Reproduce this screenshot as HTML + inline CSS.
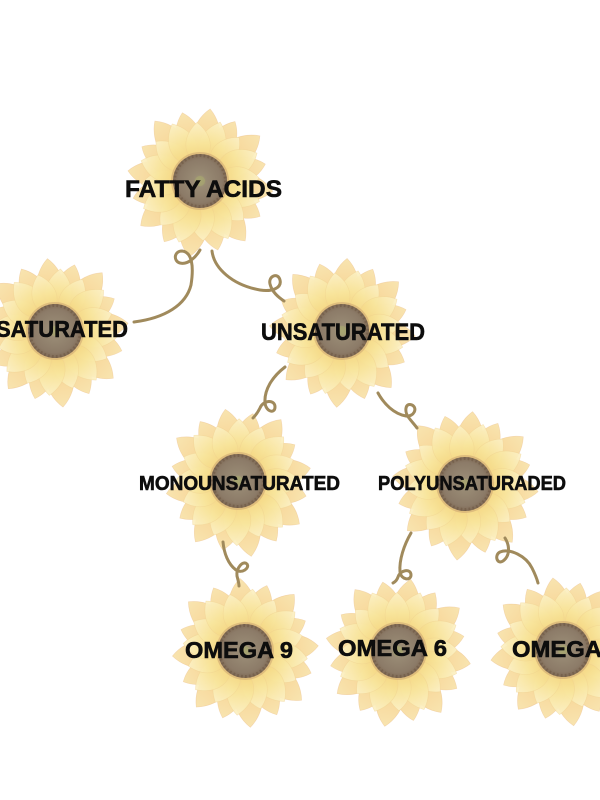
<!DOCTYPE html>
<html>
<head>
<meta charset="utf-8">
<style>
html,body{margin:0;padding:0;background:#fff;}
body{width:600px;height:800px;overflow:hidden;}
svg{display:block;}
text{font-family:"Liberation Sans",Arial,sans-serif;font-weight:bold;fill:#0d0d0d;stroke:#0d0d0d;stroke-width:0.6;}
</style>
</head>
<body>
<svg width="600" height="800" viewBox="0 0 600 800" xmlns="http://www.w3.org/2000/svg">
<defs>
  <linearGradient id="gb" gradientUnits="userSpaceOnUse" x1="0" y1="-18" x2="0" y2="-76">
    <stop offset="0" stop-color="#f0bd8c"/>
    <stop offset="0.45" stop-color="#f6d28e"/>
    <stop offset="1" stop-color="#f8e2a8"/>
  </linearGradient>
  <linearGradient id="gf" gradientUnits="userSpaceOnUse" x1="0" y1="-18" x2="0" y2="-62">
    <stop offset="0" stop-color="#f3d27a"/>
    <stop offset="0.5" stop-color="#f8e59c"/>
    <stop offset="1" stop-color="#fcf1c8"/>
  </linearGradient>
  <radialGradient id="gd" cx="0.5" cy="0.5" r="0.5">
    <stop offset="0" stop-color="#a8a476"/>
    <stop offset="0.25" stop-color="#988a74"/>
    <stop offset="0.8" stop-color="#8c7b68"/>
    <stop offset="1" stop-color="#7f6a55"/>
  </radialGradient>
  <path id="pb" d="M0,-18 C19,-28 19,-58 0,-75 C-19,-58 -19,-28 0,-18Z" fill="url(#gb)" fill-opacity="0.9" stroke="#ecbe8c" stroke-width="0.6" stroke-opacity="0.5"/>
  <path id="pf" d="M0,-18 C17,-26 17,-47 0,-61 C-17,-47 -17,-26 0,-18Z" fill="url(#gf)" fill-opacity="0.93" stroke="#efd08e" stroke-width="0.6" stroke-opacity="0.5"/>
  <g id="fl">
    <use href="#pb" transform="rotate(0) scale(0.97)"/>
    <use href="#pb" transform="rotate(22.5) scale(0.92)"/>
    <use href="#pb" transform="rotate(45) scale(1.0)"/>
    <use href="#pb" transform="rotate(67.5) scale(0.9)"/>
    <use href="#pb" transform="rotate(90) scale(0.98)"/>
    <use href="#pb" transform="rotate(112.5) scale(0.93)"/>
    <use href="#pb" transform="rotate(135) scale(1.0)"/>
    <use href="#pb" transform="rotate(157.5) scale(0.95)"/>
    <use href="#pb" transform="rotate(180) scale(1.02)"/>
    <use href="#pb" transform="rotate(202.5) scale(0.94)"/>
    <use href="#pb" transform="rotate(225) scale(0.99)"/>
    <use href="#pb" transform="rotate(247.5) scale(0.92)"/>
    <use href="#pb" transform="rotate(270) scale(0.97)"/>
    <use href="#pb" transform="rotate(292.5) scale(0.9)"/>
    <use href="#pb" transform="rotate(315) scale(1.0)"/>
    <use href="#pb" transform="rotate(337.5) scale(0.94)"/>
    <use href="#pf" transform="rotate(11) scale(1.02)"/>
    <use href="#pf" transform="rotate(34) scale(0.96)"/>
    <use href="#pf" transform="rotate(56) scale(1.04)"/>
    <use href="#pf" transform="rotate(79) scale(0.97)"/>
    <use href="#pf" transform="rotate(101) scale(1.03)"/>
    <use href="#pf" transform="rotate(124) scale(0.96)"/>
    <use href="#pf" transform="rotate(146) scale(1.05)"/>
    <use href="#pf" transform="rotate(169) scale(0.98)"/>
    <use href="#pf" transform="rotate(191) scale(1.06)"/>
    <use href="#pf" transform="rotate(214) scale(0.97)"/>
    <use href="#pf" transform="rotate(236) scale(1.03)"/>
    <use href="#pf" transform="rotate(259) scale(0.96)"/>
    <use href="#pf" transform="rotate(281) scale(1.02)"/>
    <use href="#pf" transform="rotate(304) scale(0.97)"/>
    <use href="#pf" transform="rotate(326) scale(1.04)"/>
    <use href="#pf" transform="rotate(349) scale(0.96)"/>
    <circle r="29" fill="#c39a6c" fill-opacity="0.45"/>
    <circle r="27" fill="url(#gd)"/>
    <circle r="25.5" fill="none" stroke="#6e5844" stroke-width="3" stroke-dasharray="1.8 2.2" stroke-opacity="0.6"/>
    <circle r="5" fill="#a9a86e" fill-opacity="0.6"/>
  </g>
</defs>

<!-- flowers -->
<use href="#fl" transform="translate(200,181) rotate(8)"/>
<use href="#fl" transform="translate(55,331) rotate(-6)"/>
<use href="#fl" transform="translate(342,331) rotate(4)"/>
<use href="#fl" transform="translate(238,481) rotate(-10)"/>
<use href="#fl" transform="translate(465,484) rotate(6)"/>
<use href="#fl" transform="translate(245,651) rotate(-4)"/>
<use href="#fl" transform="translate(398,651) rotate(10)"/>
<use href="#fl" transform="translate(563,650) rotate(-8)"/>

<!-- connectors -->
<g fill="none" stroke="#a08a5c" stroke-width="3" stroke-linecap="round">
  <path d="M200,250 C196,257 188,265 180,263 C173,261 174,251 182,251 C192,252 194,266 191,285 C186,305 165,318 134,322"/>
  <path d="M212,251 C214,268 232,285 260,290 C272,292 282,288 280,280 C278,272 268,276 270,284 C272,292 278,297 284,301"/>
  <path d="M285,367 C272,377 264,390 265,403 C266,412 275,414 275,407 C275,399 263,400 260,408 C258,412 256,415 253,418"/>
  <path d="M378,393 C384,404 394,414 406,416 C414,417 418,408 412,405 C405,402 404,412 409,418 C412,422 415,425 417,428"/>
  <path d="M223,542 C224,553 228,564 236,570 C242,574 250,568 247,564 C243,560 236,568 237,576 C238,580 239,583 239,586"/>
  <path d="M411,533 C404,545 399,560 400,572 C401,580 411,581 411,575 C411,568 400,570 398,577 C397,580 395,582 393,583"/>
  <path d="M505,538 C510,546 510,556 503,561 C497,565 494,555 500,552 C510,548 526,556 532,568 C535,574 537,579 538,583"/>
</g>

<!-- labels -->
<text x="125" y="197" font-size="24" textLength="157" lengthAdjust="spacingAndGlyphs">FATTY ACIDS</text>
<text x="-4" y="337" font-size="23" textLength="132" lengthAdjust="spacingAndGlyphs">SATURATED</text>
<text x="261" y="340" font-size="24" textLength="164" lengthAdjust="spacingAndGlyphs">UNSATURATED</text>
<text x="139" y="490" font-size="20" textLength="201" lengthAdjust="spacingAndGlyphs">MONOUNSATURATED</text>
<text x="378" y="490" font-size="20" textLength="188" lengthAdjust="spacingAndGlyphs">POLYUNSATURADED</text>
<text x="185" y="658" font-size="23" textLength="108" lengthAdjust="spacingAndGlyphs">OMEGA 9</text>
<text x="338" y="656" font-size="23" textLength="109" lengthAdjust="spacingAndGlyphs">OMEGA 6</text>
<text x="512" y="657" font-size="23" textLength="109" lengthAdjust="spacingAndGlyphs">OMEGA 3</text>
</svg>
</body>
</html>
